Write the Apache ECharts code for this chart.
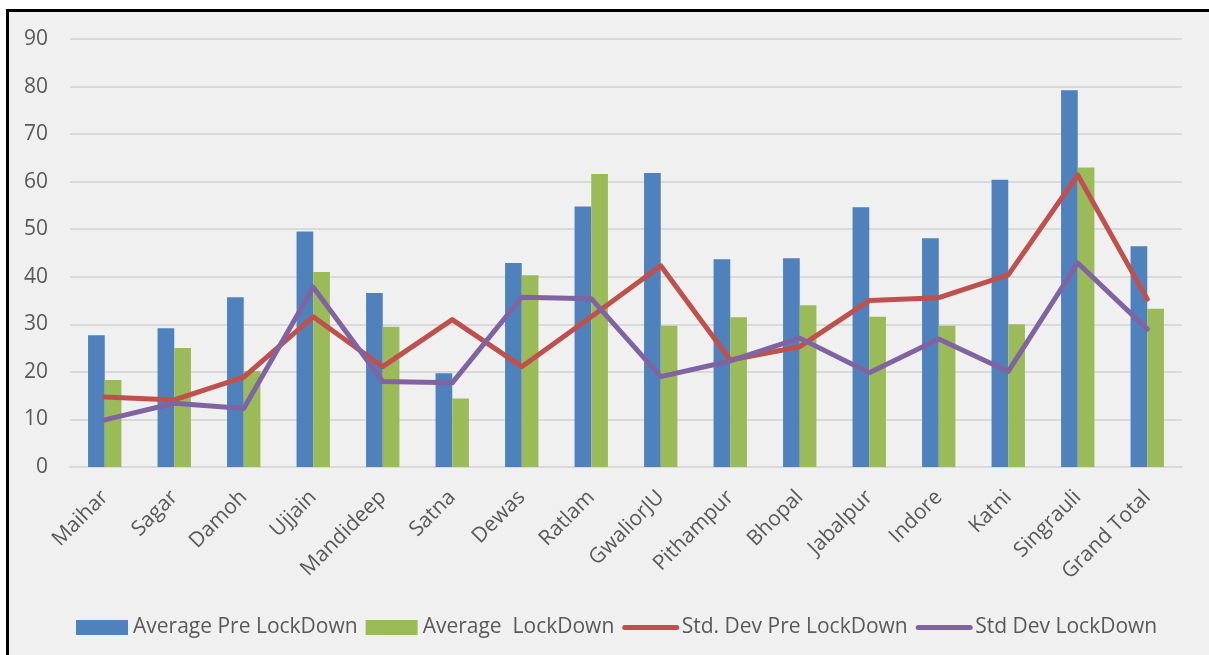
<!DOCTYPE html>
<html>
<head>
<meta charset="utf-8">
<script src="https://cdn.jsdelivr.net/npm/echarts@6/dist/echarts.min.js"></script>
<style>
  html, body { margin: 0; padding: 0; background: #ffffff; width: 1209px; height: 655px; overflow: hidden; }
  #frame { position: absolute; left: 6px; top: 9px; right: -10px; bottom: -10px; border-top: 3px solid #000; border-left: 3px solid #000; background: #f0f0f0; }
  #chart { position: absolute; left: 0; top: 0; width: 1209px; height: 655px; }
</style>
</head>
<body>
<div id="frame"></div>
<div id="chart"></div>
<script>
const categories = ['Maihar', 'Sagar', 'Damoh', 'Ujjain', 'Mandideep', 'Satna', 'Dewas', 'Ratlam', 'GwaliorJU', 'Pithampur', 'Bhopal', 'Jabalpur', 'Indore', 'Katni', 'Singrauli', 'Grand Total'];
const avgPreLockDown = [27.7, 29.2, 35.7, 49.5, 36.6, 19.7, 42.9, 54.8, 61.8, 43.7, 43.9, 54.6, 48.1, 60.4, 79.2, 46.4];
const avgLockDown = [18.3, 25.0, 20.2, 41.0, 29.5, 14.4, 40.3, 61.6, 29.7, 31.5, 34.0, 31.6, 29.7, 30.0, 63.0, 33.3];
const stdDevPreLockDown = [14.7, 14.1, 18.9, 31.6, 21.1, 31.0, 21.1, 31.6, 42.3, 22.5, 25.3, 35.0, 35.6, 40.4, 61.4, 35.3];
const stdDevLockDown = [9.9, 13.4, 12.3, 37.8, 18.0, 17.7, 35.7, 35.4, 19.0, 22.3, 27.1, 19.8, 26.9, 20.1, 42.9, 29.0];
const seriesNames = ['Average Pre LockDown', 'Average  LockDown', 'Std. Dev Pre LockDown', 'Std Dev LockDown'];

const FONT = 'Open Sans';
const TXT = '#595959';
const chart = echarts.init(document.getElementById('chart'), null, { renderer: 'canvas' });
chart.setOption({
  backgroundColor: 'transparent',
  animation: false,
  textStyle: { fontFamily: FONT },
  grid: { left: 70, right: 27, top: 39, bottom: 188, containLabel: false },
  legend: {
    left: 76, top: 617, padding: 0,
    itemWidth: 52, itemHeight: 15, itemGap: 8,
    textStyle: { fontFamily: FONT, fontSize: 21, color: TXT },
    data: [
      { name: seriesNames[0], icon: 'rect' },
      { name: seriesNames[1], icon: 'rect' },
      { name: seriesNames[2], itemStyle: { opacity: 0 }, lineStyle: { width: 5, cap: 'round' } },
      { name: seriesNames[3], itemStyle: { opacity: 0 }, lineStyle: { width: 5, cap: 'round' } }
    ]
  },
  xAxis: {
    type: 'category',
    data: categories,
    axisLine: { show: true, lineStyle: { color: '#d9d9d9', width: 2 } },
    axisTick: { show: false },
    axisLabel: { interval: 0, rotate: 45, margin: 27, fontFamily: FONT, fontSize: 21, color: TXT }
  },
  yAxis: {
    type: 'value',
    min: 0, max: 90, interval: 10,
    axisLine: { show: false },
    axisTick: { show: false },
    splitLine: { lineStyle: { color: '#d9d9d9', width: 2 } },
    axisLabel: { margin: 22, fontFamily: FONT, fontSize: 21, color: TXT }
  },
  series: [
    { name: seriesNames[0], type: 'bar', data: avgPreLockDown, barGap: '0%', barCategoryGap: '52%', itemStyle: { color: '#4F81BD' } },
    { name: seriesNames[1], type: 'bar', data: avgLockDown, barGap: '0%', barCategoryGap: '52%', itemStyle: { color: '#9BBB59' } },
    { name: seriesNames[2], type: 'line', data: stdDevPreLockDown, symbol: 'none', z: 5, color: '#C0504D', lineStyle: { color: '#C0504D', width: 5, cap: 'round', join: 'round' } },
    { name: seriesNames[3], type: 'line', data: stdDevLockDown, symbol: 'none', z: 6, color: '#8064A2', lineStyle: { color: '#8064A2', width: 5, cap: 'round', join: 'round' } }
  ]
});
</script>
</body>
</html>
